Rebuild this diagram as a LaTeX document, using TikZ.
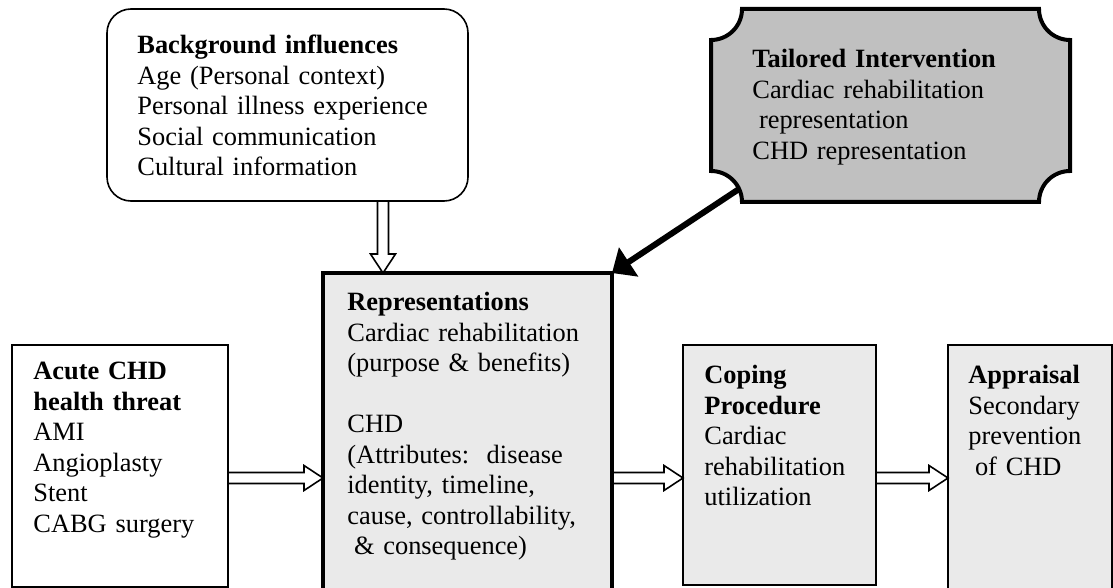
\documentclass[tikz,border=0pt]{standalone}
\usepackage{fontspec}
\setmainfont{Liberation Serif}
\usepackage{tikz}
\usetikzlibrary{arrows.meta,positioning,calc}
\definecolor{boxgray}{RGB}{234,234,234}
\definecolor{plaquegray}{RGB}{192,192,192}
\tikzset{
    box/.style={draw, line width=0.7pt, inner sep=0pt, outer sep=0pt, anchor=north west},
    boxB/.style={box, line width=0.8pt, rounded corners=12pt},
    boxR/.style={box, fill=boxgray, line width=2.2pt},
    boxC/.style={box, fill=boxgray},
    plaque/.style={draw, line width=2pt, fill=plaquegray},
    txt/.style={inner sep=0pt, anchor=north west, align=left, text width=160pt,
                font=\fontsize{13.2}{15.25}\selectfont},
    hollow/.style={draw, line width=0.8pt, line join=miter, to path={
        ($(\tikztostart)!2.75pt!90:(\tikztotarget)$)
        -- ($(\tikztotarget)!9.5pt!(\tikztostart)!2.75pt!-90:(\tikztostart)$)
        -- ($(\tikztotarget)!9.5pt!(\tikztostart)!6.25pt!-90:(\tikztostart)$)
        -- (\tikztotarget)
        -- ($(\tikztotarget)!9.5pt!(\tikztostart)!6.25pt!90:(\tikztostart)$)
        -- ($(\tikztotarget)!9.5pt!(\tikztostart)!2.75pt!90:(\tikztostart)$)
        -- ($(\tikztostart)!2.75pt!-90:(\tikztotarget)$)}},
    push/.style={line width=3pt, -{Triangle[length=10pt,width=17pt]}},
}

\begin{document}
\begin{tikzpicture}[x=0.5pt, y=0.5pt]
    \useasboundingbox (0,0) rectangle (1113,-588);
    \clip (0,0) rectangle (1113,-588);

    % Background influences
    \node[boxB, minimum width=180.5pt, minimum height=96pt] (bg) at (107,-9) {};
    \node[txt, below right=13pt and 15pt of bg.north west] (bgT) {\textbf{Background influences}\\Age (Personal context)\\Personal illness experience\\Social communication\\Cultural information};

    % Tailored intervention
    \node[box, draw=none, minimum width=179.5pt, minimum height=96.5pt] (tail) at (711,-9) {};
    \draw[plaque] ([xshift=15.5pt]tail.north west) -- ([xshift=-15.5pt]tail.north east)
        arc[start angle=180, end angle=270, radius=15.5pt] -- ([yshift=15.5pt]tail.south east)
        arc[start angle=90, end angle=180, radius=15.5pt] -- ([xshift=15.5pt]tail.south west)
        arc[start angle=0, end angle=90, radius=15.5pt] -- ([yshift=-15.5pt]tail.north west)
        arc[start angle=270, end angle=360, radius=15.5pt] -- cycle;
    \node[txt, below right=20pt and 20.5pt of tail.north west] (tailT) {\textbf{Tailored Intervention}\\Cardiac rehabilitation\\\hspace*{0.25em}representation\\CHD representation};

    % Representations
    \node[boxR, minimum width=144.5pt, minimum height=165pt] (rep) at (323,-273) {};
    \node[txt, below right=9.5pt and 12pt of rep.north west] (repT) {\textbf{Representations}\\Cardiac rehabilitation\\(purpose \& benefits)\\[15.25pt]CHD\\(Attributes:\ \ disease\\identity, timeline,\\cause, controllability,\\\hspace*{0.25em}\& consequence)};

    % Acute CHD health threat
    \node[box, minimum width=108pt, minimum height=121pt] (acute) at (12,-345) {};
    \node[txt, below right=8.5pt and 10.5pt of acute.north west] (acuteT) {\textbf{Acute CHD}\\\textbf{health threat}\\AMI\\Angioplasty\\Stent\\CABG surgery};

    % Coping procedure
    \node[boxC, minimum width=96.5pt, minimum height=120pt] (cope) at (683,-345) {};
    \node[txt, below right=10pt and 10.5pt of cope.north west] (copeT) {\textbf{Coping}\\\textbf{Procedure}\\Cardiac\\rehabilitation\\utilization};

    % Appraisal
    \node[boxC, minimum width=82pt, minimum height=130pt] (appr) at (948,-345) {};
    \node[txt, below right=10pt and 10pt of appr.north west] (apprT) {\textbf{Appraisal}\\Secondary\\prevention\\\hspace*{0.25em}of CHD};

    % Hollow arrows
    \coordinate (drop) at (383,0);
    \coordinate (flow) at (0,-478);
    \draw[hollow] (bg.south -| drop) to (rep.north -| drop);
    \draw[hollow] (acute.east |- flow) to (rep.west |- flow);
    \draw[hollow] (rep.east |- flow) to (cope.west |- flow);
    \draw[hollow] (cope.east |- flow) to (appr.west |- flow);

    % Intervention arrow
    \coordinate (launch) at ($(tail.south west)+(28,13)$);
    \draw[push] (launch) -- (rep.north east);
\end{tikzpicture}
\end{document}
